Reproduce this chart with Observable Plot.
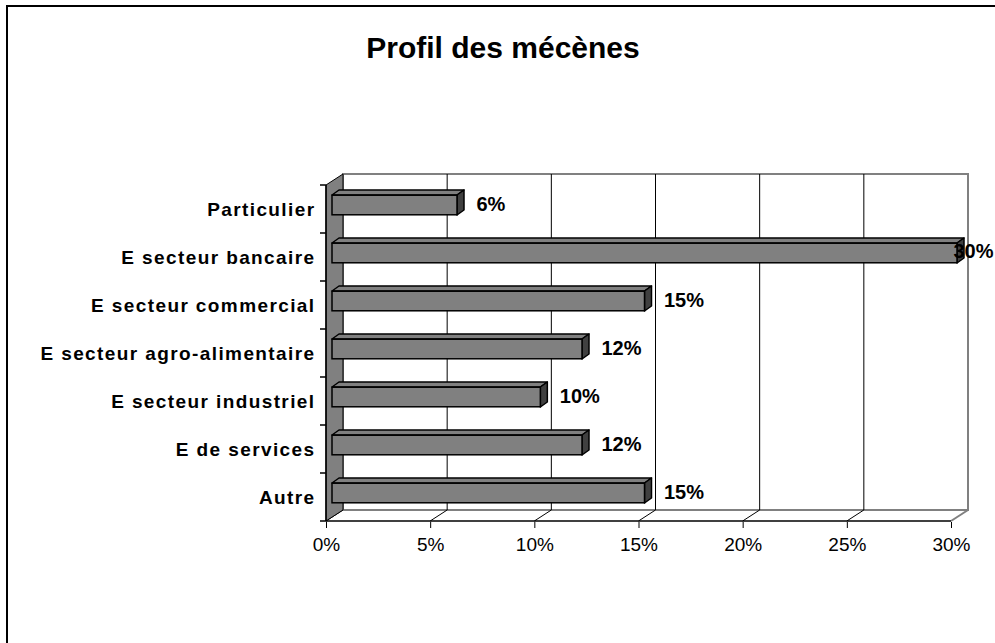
<!DOCTYPE html>
<html>
<head>
<meta charset="utf-8">
<script src="https://cdn.jsdelivr.net/npm/d3@7"></script>
<script src="https://cdn.jsdelivr.net/npm/@observablehq/plot@0.6"></script>
<style>
html, body { margin: 0; padding: 0; background: #fff; overflow: hidden; width: 995px; height: 643px; }
#wrap { position: relative; width: 995px; height: 643px; overflow: hidden; }
#border { position: absolute; left: 6px; top: 5px; width: 1100px; height: 800px; border-left: 2px solid #000; border-top: 2px solid #000; }
#title { position: absolute; left: 0; top: 33px; width: 1006px; text-align: center; font: bold 30px "Liberation Sans", Arial, sans-serif; line-height: 30px; color: #000; }
#chart { position: absolute; left: 0; top: 0; }
#chart g[aria-label="y-axis tick label"] text { font-weight: bold; letter-spacing: 1.4px; }
</style>
</head>
<body>
<div id="wrap">
  <div id="border"></div>
  <div id="chart"></div>
  <div id="title">Profil des mécènes</div>
</div>
<script>
// ---- data ----
const categories = [
  "Particulier",
  "E secteur bancaire",
  "E secteur commercial",
  "E secteur agro-alimentaire",
  "E secteur industriel",
  "E de services",
  "Autre"
];
const values = [0.06, 0.30, 0.15, 0.12, 0.10, 0.12, 0.15];
const xTicks = [0, 0.05, 0.10, 0.15, 0.20, 0.25, 0.30];
const xTickLabels = ["0%", "5%", "10%", "15%", "20%", "25%", "30%"];
const valueLabels = ["6%", "30%", "15%", "12%", "10%", "12%", "15%"];

const data = categories.map((c, i) => ({cat: c, value: values[i], label: valueLabels[i]}));
const xMax = xTicks[xTicks.length - 1];
const maxValue = d3.max(values);

// ---- 3D geometry (pixels) ----
const WDX = 17, WDY = -11;   // wall depth
const BX = 6, BY = -4;       // bar offset from front plane
const BDX = 7, BDY = -5;     // bar depth
const BH = 20;               // bar front face height

const NS = "http://www.w3.org/2000/svg";
function el(name, attrs) {
  const e = document.createElementNS(NS, name);
  for (const k in attrs) e.setAttribute(k, attrs[k]);
  return e;
}
function bandOf(y) {
  return typeof y.bandwidth === "function" ? y.bandwidth() : 0;
}

// walls, floor and grid
function walls(index, scales) {
  const {x, y} = scales;
  const bw = bandOf(y);
  const g = el("g", {"aria-label": "walls"});
  const x0 = x(0), x1 = x(xMax);
  const y0 = y(categories[0]), y1 = y(categories[categories.length - 1]) + bw;
  g.appendChild(el("rect", {x: x0 + WDX, y: y0 + WDY, width: x1 - x0, height: y1 - y0, fill: "#fff", stroke: "#808080", "stroke-width": 2}));
  for (const t of xTicks) {
    if (t === 0 || t === xMax) continue;
    g.appendChild(el("line", {x1: x(t) + WDX, x2: x(t) + WDX, y1: y0 + WDY, y2: y1 + WDY, stroke: "#000", "stroke-width": 1}));
  }
  for (const t of xTicks) {
    g.appendChild(el("line", {x1: x(t), y1: y1, x2: x(t) + WDX, y2: y1 + WDY, stroke: t === xMax ? "#808080" : "#000", "stroke-width": t === xMax ? 2 : 1}));
  }
  g.appendChild(el("polygon", {
    points: `${x0},${y0} ${x0 + WDX},${y0 + WDY} ${x0 + WDX},${y1 + WDY} ${x0},${y1}`,
    fill: "#808080", stroke: "#000", "stroke-width": 1
  }));
  return g;
}

// front axis lines
function axisLines(index, scales) {
  const {x, y} = scales;
  const bw = bandOf(y);
  const g = el("g", {"aria-label": "axis lines"});
  const x0 = x(0), x1 = x(xMax);
  const y0 = y(categories[0]), y1 = y(categories[categories.length - 1]) + bw;
  g.appendChild(el("line", {x1: x0, x2: x1, y1: y1, y2: y1, stroke: "#000", "stroke-width": 1.5}));
  g.appendChild(el("line", {x1: x0, x2: x0, y1: y0, y2: y1, stroke: "#000", "stroke-width": 1.5}));
  for (let i = 0; i <= categories.length; i++) {
    const yy = i < categories.length ? y(categories[i]) : y1;
    g.appendChild(el("line", {x1: x0 - 6, x2: x0, y1: yy, y2: yy, stroke: "#000", "stroke-width": 1.5}));
  }
  return g;
}

// 3D faces of bars (top and right)
function barFaces(index, scales) {
  const {x, y} = scales;
  const bw = bandOf(y);
  const g = el("g", {"aria-label": "bar faces"});
  for (const d of data) {
    const yc = y(d.cat) + bw / 2 + BY;
    const ya = yc - BH / 2, yb = yc + BH / 2;
    const xa = x(0) + BX, xb = x(d.value) + BX;
    g.appendChild(el("polygon", {
      points: `${xa},${ya} ${xa + BDX},${ya + BDY} ${xb + BDX},${ya + BDY} ${xb},${ya}`,
      fill: "#808080", stroke: "#000", "stroke-width": 1.5, "stroke-linejoin": "round"
    }));
    g.appendChild(el("polygon", {
      points: `${xb},${ya} ${xb + BDX},${ya + BDY} ${xb + BDX},${yb + BDY} ${xb},${yb}`,
      fill: "#404040", stroke: "#000", "stroke-width": 1.5, "stroke-linejoin": "round"
    }));
  }
  return g;
}

const bandwidth = (643 - 183 - 121) / categories.length;
const inset = (bandwidth - BH) / 2;

const chart = Plot.plot({
  width: 995,
  height: 643,
  marginLeft: 326,
  marginRight: 44,
  marginTop: 183,
  marginBottom: 121,
  style: {fontFamily: '"Liberation Sans", Arial, sans-serif', fontSize: "19px", color: "#000", background: "transparent", overflow: "visible"},
  x: {type: "linear", domain: [0, xMax], axis: null},
  y: {type: "band", domain: categories, paddingInner: 0, paddingOuter: 0, axis: null},
  marks: [
    walls,
    barFaces,
    Plot.barX(data, {
      x: "value", y: "cat", dx: BX, dy: BY,
      insetTop: inset, insetBottom: inset,
      fill: "#808080", stroke: "#000", strokeWidth: 1.5
    }),
    axisLines,
    Plot.axisX({
      ticks: xTicks,
      tickFormat: (d) => xTickLabels[xTicks.indexOf(d)],
      tickSize: 6, tickPadding: 9,
      fontSize: 19, label: null, stroke: "#000"
    }),
    Plot.axisY({
      ticks: categories,
      tickSize: 0, tickPadding: 11,
      fontSize: 19, fontWeight: "bold", label: null
    }),
    Plot.text(data.filter((d) => d.value !== maxValue), {
      x: "value", y: "cat", text: "label", dx: 25, dy: BY - 1,
      textAnchor: "start", fontWeight: "bold", fontSize: 20, fill: "#000"
    }),
    Plot.text(data.filter((d) => d.value === maxValue), {
      x: "value", y: "cat", text: "label", dx: 2, dy: BY - 2,
      textAnchor: "start", fontWeight: "bold", fontSize: 20, fill: "#000"
    })
  ]
});
document.getElementById("chart").appendChild(chart);
</script>
</body>
</html>
